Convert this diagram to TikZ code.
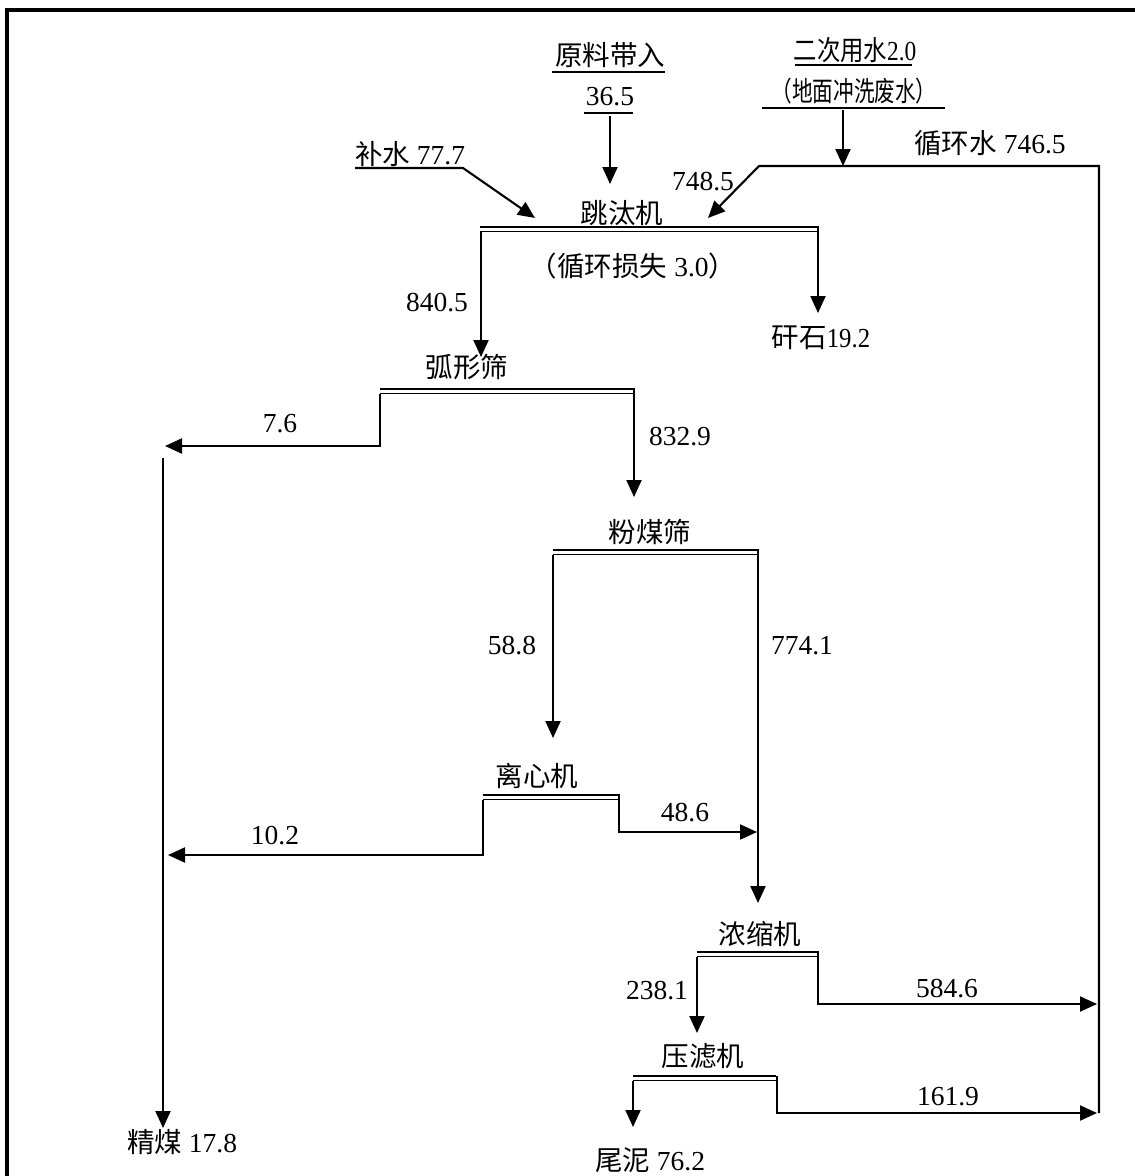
\documentclass[tikz,border=0pt]{standalone}
\usepackage{fontspec}
\usepackage{graphicx}
\setmainfont{Liberation Serif}
\newfontfamily\cjk{Noto Sans CJK SC}
\usetikzlibrary{arrows.meta}
\begin{document}
\begin{tikzpicture}[x=1pt,y=-1pt,
  font=\fontsize{27.5}{30}\selectfont,
  lbl/.style={inner sep=0pt},
  uline/.style={line width=1.8pt},
  flow/.style={line width=2.1pt,-{Triangle[length=17pt,width=15pt]}},
  sepbar/.style={draw,line width=1.7pt,double=white,double distance=3pt},
  borderline/.style={line width=3.5pt}]
\useasboundingbox (0,0) rectangle (1135,1176);
\draw[borderline] (7,1176) -- (7,10) -- (1135,10);

% ---- labels ----
\node[lbl] (raw) at (610,55) {\cjk 原料带入};
\node[lbl] (rawq) at (610,97) {36.5};
\node[lbl] (sec) at (855,50) {\scalebox{0.85}[1]{{\cjk 二次用水}2.0}};
\node[lbl] (secb) at (854,91) {\scalebox{0.75}[1]{\cjk （地面冲洗废水）}};
\node[lbl] (mk) at (410,154) {{\cjk 补水} 77.7};
\node[lbl] (rec) at (990,143) {{\cjk 循环水} 746.5};
\node[lbl] (v7485) at (703,182) {748.5};
\node[lbl] (jig) at (622,213) {\cjk 跳汰机};
\node[lbl] (loss) at (633,266) {{\cjk （循环损失} 3.0{\cjk ）}};
\node[lbl] (v8405) at (437,303) {840.5};
\node[lbl] (gang) at (821,338) {{\cjk 矸石}\scalebox{0.9}[1]{19.2}};
\node[lbl] (arc) at (467,367) {\cjk 弧形筛};
\node[lbl] (v76) at (280,424) {7.6};
\node[lbl] (v8329) at (680,437) {832.9};
\node[lbl] (fs) at (650,532) {\cjk 粉煤筛};
\node[lbl] (v588) at (512,646) {58.8};
\node[lbl] (v7741) at (802,646) {774.1};
\node[lbl] (ce) at (537,776) {\cjk 离心机};
\node[lbl] (v102) at (275,836) {10.2};
\node[lbl] (v486) at (685,813) {48.6};
\node[lbl] (th) at (760,934) {\cjk 浓缩机};
\node[lbl] (v2381) at (657,991) {238.1};
\node[lbl] (v5846) at (947,989) {584.6};
\node[lbl] (pr) at (703,1056) {\cjk 压滤机};
\node[lbl] (v1619) at (948,1097) {161.9};
\node[lbl] (clean) at (182,1142) {{\cjk 精煤} 17.8};
\node[lbl] (tail) at (650,1160) {{\cjk 尾泥} 76.2};

% ---- underlines ----
\draw[uline] (552,72) -- (665,72);
\draw[uline] (584,113) -- (633,113);
\draw[uline] (795,65) -- (912,65);
\draw[uline] (762,108) -- (945,108);

% ---- separator bars ----
\coordinate (jigL) at (480,229); \coordinate (jigR) at (819,229);
\coordinate (arcL) at (380,391); \coordinate (arcR) at (635,391);
\coordinate (fsL) at (553,552);  \coordinate (fsR) at (759,552);
\coordinate (ceL) at (483,797);  \coordinate (ceR) at (619,797);
\coordinate (thL) at (697,954);  \coordinate (thR) at (818,954);
\coordinate (prL) at (633,1078); \coordinate (prR) at (776,1078);
\draw[sepbar] (jigL) -- (jigR);
\draw[sepbar] (arcL) -- (arcR);
\draw[sepbar] (fsL) -- (fsR);
\draw[sepbar] (ceL) -- (ceR);
\draw[sepbar] (thL) -- (thR);
\draw[sepbar] (prL) -- (prR);

% ---- inputs to jig ----
\coordinate (rawA) at (610,116); \coordinate (rawB) at (610,184);
\draw[flow] (rawA) -- (rawB);
\coordinate (mkA) at (355,168); \coordinate (mkB) at (463,168); \coordinate (mkC) at (535,218);
\draw[flow] (mkA) -- (mkB) -- (mkC);
\coordinate (secA) at (843,110); \coordinate (secB) at (843,166);
\draw[flow] (secA) -- (secB);
\coordinate (recA) at (1099,1113); \coordinate (recB) at (1099,166);
\coordinate (recC) at (759,166); \coordinate (recD) at (708,218);
\draw[flow] (recA) -- (recB) -- (recC) -- (recD);

% ---- jig outputs ----
\coordinate (jgA) at (818,226); \coordinate (jgB) at (818,313);
\draw[flow] (jgA) -- (jgB);
\coordinate (jlA) at (481,232); \coordinate (jlB) at (481,357);
\draw[flow] (jlA) -- (jlB);

% ---- arc screen ----
\coordinate (alA) at (380,394); \coordinate (alB) at (380,446); \coordinate (alC) at (165,446);
\draw[flow] (alA) -- (alB) -- (alC);
\coordinate (arA) at (634,388); \coordinate (arB) at (634,497);
\draw[flow] (arA) -- (arB);
\coordinate (cleanA) at (163,458); \coordinate (cleanB) at (163,1128);
\draw[flow] (cleanA) -- (cleanB);

% ---- fine coal screen ----
\coordinate (flA) at (553,555); \coordinate (flB) at (553,738);
\draw[flow] (flA) -- (flB);
\coordinate (frA) at (758,549); \coordinate (frB) at (758,903);
\draw[flow] (frA) -- (frB);

% ---- centrifuge ----
\coordinate (clA) at (483,800); \coordinate (clB) at (483,855); \coordinate (clC) at (168,855);
\draw[flow] (clA) -- (clB) -- (clC);
\coordinate (crA) at (619,794); \coordinate (crB) at (619,832); \coordinate (crC) at (757,832);
\draw[flow] (crA) -- (crB) -- (crC);

% ---- thickener ----
\coordinate (tlA) at (697,957); \coordinate (tlB) at (697,1033);
\draw[flow] (tlA) -- (tlB);
\coordinate (trA) at (818,951); \coordinate (trB) at (818,1004); \coordinate (trC) at (1097,1004);
\draw[flow] (trA) -- (trB) -- (trC);

% ---- filter press ----
\coordinate (plA) at (633,1081); \coordinate (plB) at (633,1127);
\draw[flow] (plA) -- (plB);
\coordinate (prA) at (777,1076); \coordinate (prB) at (777,1113); \coordinate (prC) at (1097,1113);
\draw[flow] (prA) -- (prB) -- (prC);
\end{tikzpicture}
\end{document}
